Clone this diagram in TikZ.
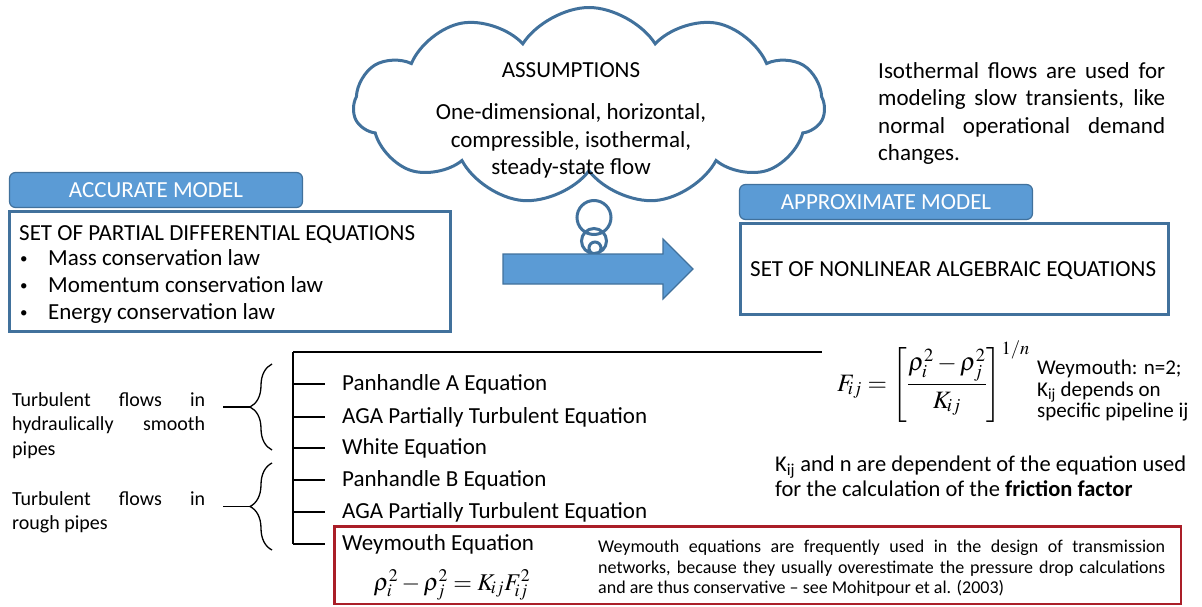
\documentclass[tikz,border=0pt]{standalone}
\usepackage{amsmath}
\usepackage{mathptmx}
\usepackage[no-math]{fontspec}
\setmainfont{Carlito}
\usetikzlibrary{arrows.meta,calc,positioning,shapes.symbols,decorations.pathreplacing}

\definecolor{tabblue}{RGB}{91,155,213}
\definecolor{lineblue}{RGB}{65,113,156}
\definecolor{weyred}{RGB}{170,30,40}

\begin{document}
\begin{tikzpicture}[x=1pt,y=-1pt,>=Stealth,font=\fontsize{23}{27.5}\selectfont,
  lbl/.style={inner sep=0pt,anchor=base west},
  note/.style={inner sep=0pt,anchor=north west},
  tabhead/.style={draw=lineblue,line width=1.2pt,fill=tabblue,rounded corners=6pt,
    text=white,minimum width=293pt,minimum height=35pt,inner sep=0pt},
  modelbox/.style={draw=lineblue,line width=3pt,inner sep=0pt},
  tree/.style={line width=1.3pt}]
  \useasboundingbox (0,0) rectangle (1202,607);
  % thought cloud with the assumptions
  \node[cloud,draw=lineblue,line width=3pt,cloud puffs=11,cloud puff arc=115,aspect=2.4,
        minimum width=471pt,minimum height=197pt] (assume) at (589,106) {};
  \node[inner sep=0pt] (assumehead) at (571,70) {ASSUMPTIONS};
  \node[inner sep=0pt,align=center] (assumetext) at (571,141)
     {One-dimensional, horizontal,\\ compressible, isothermal,\\ steady-state flow};
  \draw[lineblue,line width=3pt] (594,217.5) circle (17pt) (594,241) circle (12.5pt)
     (595,248) circle (6pt);
  % block arrow from accurate to approximate model
  \draw[lineblue,line width=1.2pt,fill=tabblue] (503,254) -- (663,254) -- (663,239)
     -- (693,269) -- (663,299) -- (663,284) -- (503,284) -- cycle;
  % accurate model
  \node[tabhead] (acctab) at (156,190) {ACCURATE MODEL};
  \node[modelbox,minimum width=441pt,minimum height=120pt] (accbox) at (230,271.5) {};
  \node[lbl] (pde) at (19,240) {SET OF PARTIAL DIFFERENTIAL EQUATIONS};
  \newcommand\blt{\makebox[28pt][l]{\fontsize{15}{15}\selectfont\raisebox{2pt}{\textbullet}}}
  \node[lbl] (mass) at (20,265) {\blt Mass conservation law};
  \node[lbl] (momentum) at (20,292) {\blt Momentum conservation law};
  \node[lbl] (energy) at (20,319) {\blt Energy conservation law};
  % approximate model
  \node[tabhead] (apptab) at (886,202) {APPROXIMATE MODEL};
  \node[modelbox,minimum width=428pt,minimum height=91pt] (appbox) at (954.5,269) {};
  \node[lbl] (nlae) at (750,276) {SET OF NONLINEAR ALGEBRAIC EQUATIONS};
  \node[note,text width=287pt,align=justify] (isonote) at (878,62)
     {Isothermal flows are used for\linebreak modeling slow transients, like\linebreak
      normal operational demand\linebreak changes.};
  % friction factor equations
  \coordinate (trunk) at (293,352);
  \node[lbl] (pa) at (342,390) {Panhandle A Equation};
  \node[lbl] (aga1) at (342,423) {AGA Partially Turbulent Equation};
  \node[lbl] (white) at (342,454) {White Equation};
  \node[lbl] (pb) at (342,486) {Panhandle B Equation};
  \node[lbl] (aga2) at (342,518) {AGA Partially Turbulent Equation};
  \node[lbl] (weym) at (342,550) {Weymouth Equation};
  \draw[tree] (trunk) -- (trunk |- weym.west);
  \foreach \eq in {pa,aga1,white,pb,aga2,weym}
    \draw[tree] (trunk |- \eq.west) -- ([xshift=-17pt]\eq.west);
  \node[lbl,font=\fontsize{25}{29}\selectfont] (fij) at (837,391)
     {$\displaystyle F_{\!ij}=\left[\frac{\rho_i^2-\rho_j^2}{K_{\!ij}}\right]^{1/n}$};
  \draw[tree] (trunk) -- ([xshift=-15pt]trunk -| fij.west);
  \node[note,align=left,font=\fontsize{21}{21.5}\selectfont] (weynote) at (1037,360)
     {Weymouth: n=2;\\ K\textsubscript{ij} depends on\\ specific pipeline ij};
  \node[note,align=left,font=\fontsize{22.5}{24.5}\selectfont] (kijnote) at (775,456)
     {K\textsubscript{ij} and n are dependent of the equation used\\
      for the calculation of the \textbf{friction factor}};
  % flow regimes
  \node[note,text width=193pt,align=justify,font=\fontsize{20}{24.5}\selectfont] (smooth) at (12,392)
     {Turbulent flows in\linebreak hydraulically smooth\linebreak pipes};
  \node[note,text width=193pt,align=justify,font=\fontsize{20}{24}\selectfont] (rough) at (12,491)
     {Turbulent flows in\linebreak rough pipes};
  \draw[tree,decorate,decoration={brace,amplitude=22pt}] (272,450) -- (272,364);
  \draw[tree,decorate,decoration={brace,amplitude=22pt}] (272,550) -- (272,463);
  \coordinate (smoothtip) at (250,407);
  \coordinate (roughtip) at (250,506.5);
  \draw[tree] (smoothtip) -- ([xshift=18pt]smoothtip -| smooth.east);
  \draw[tree] (roughtip) -- ([xshift=18pt]roughtip -| rough.east);
  % Weymouth equation
  \node[draw=weyred,line width=2.5pt,minimum width=846.5pt,minimum height=77.5pt,inner sep=0pt]
     (weybox) at (757.5,565) {};
  \node[inner sep=0pt,font=\fontsize{24}{28}\selectfont] (weyeq) at (452,585)
     {$\rho_i^2-\rho_j^2=K_{\!ij}F_{\!ij}^2$};
  \node[note,text width=567pt,align=justify,font=\fontsize{18}{20.5}\selectfont] (weycomment) at (598,540)
     {Weymouth equations are frequently used in the design of transmission\linebreak
      networks, because they usually overestimate the pressure drop calculations\linebreak
      and are thus conservative – see Mohitpour et al. (2003)};
\end{tikzpicture}
\end{document}
